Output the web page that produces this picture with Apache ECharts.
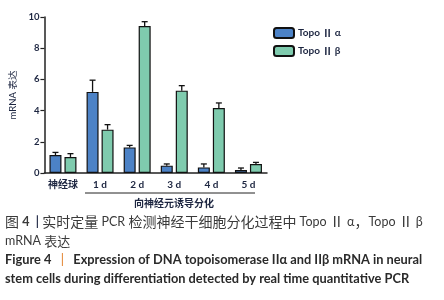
<!DOCTYPE html>
<html>
<head>
<meta charset="utf-8">
<script src="https://cdn.jsdelivr.net/npm/echarts@6/dist/echarts.min.js"></script>
<style>
  html, body { margin: 0; padding: 0; background: #fff; }
  #main { width: 444px; height: 300px; }
</style>
</head>
<body>
<div id="main"></div>
<script>
// categories and values
const categories = ['神经球', '1 d', '2 d', '3 d', '4 d', '5 d'];
const seriesNames = ['Topo Ⅱ α', 'Topo Ⅱ β'];
const alphaValues = [1.15, 5.2, 1.64, 0.47, 0.36, 0.19];
const betaValues = [1.03, 2.78, 9.42, 5.28, 4.17, 0.58];
// upper error (SD) for each bar
const alphaErr = [0.17, 0.75, 0.13, 0.11, 0.22, 0.13];
const betaErr = [0.21, 0.32, 0.28, 0.32, 0.32, 0.1];
const yTicks = [0, 2, 4, 6, 8, 10];

const BLUE = '#4c82c6';
const GREEN = '#7fcbae';
const INK = '#1c2540';
const BAR_W = 12;
const BAR_GAP = 3;
const CJK = '"Noto Sans CJK SC", sans-serif';
const LAT = 'Lato, "Noto Sans CJK SC", sans-serif';

const chart = echarts.init(document.getElementById('main'));

// error bar drawer; side = -1 for left bar, +1 for right bar
function errorBars(values, errs, side) {
    return {
        type: 'custom',
        silent: true,
        z: 5,
        data: values.map((v, i) => [i, v, v + errs[i]]),
        renderItem: function (params, api) {
            const i = api.value(0);
            const base = api.coord([i, api.value(1)]);
            const top = api.coord([i, api.value(2)]);
            const x = base[0] + side * (BAR_GAP / 2 + BAR_W / 2);
            const style = { stroke: '#111', lineWidth: 1.3 };
            return {
                type: 'group',
                children: [
                    { type: 'line', shape: { x1: x, y1: base[1], x2: x, y2: top[1] }, style: style },
                    { type: 'line', shape: { x1: x - 3, y1: top[1], x2: x + 3, y2: top[1] }, style: style }
                ]
            };
        }
    };
}

const capC = { fontSize: 14, fill: '#3a3a3a', fontFamily: CJK };
const capL = { fontSize: 12.5, fill: '#3a3a3a', fontFamily: LAT };

const option = {
    animation: false,
    grid: { left: 33, right: 177, top: 17, bottom: 127 },
    legend: {
        data: seriesNames,
        orient: 'vertical',
        left: 268,
        top: 22,
        itemWidth: 20,
        itemHeight: 10,
        itemGap: 6,
        formatter: name => name.replace('Topo Ⅱ ', 'Topo {c|Ⅱ} '),
        textStyle: {
            fontSize: 10, fontWeight: 'bold', color: INK, fontFamily: LAT, padding: [0, 0, 0, -1],
            rich: { c: { fontSize: 10, fontWeight: 'bold', color: INK, fontFamily: CJK } }
        }
    },
    xAxis: {
        type: 'category',
        data: categories,
        axisLine: { lineStyle: { color: '#222', width: 1.5 } },
        axisTick: { alignWithLabel: true, length: 4, lineStyle: { color: '#222', width: 1.2 } },
        axisLabel: {
            interval: 0,
            fontSize: 10, fontWeight: 'bold', color: INK, margin: 7,
            fontFamily: LAT
        }
    },
    yAxis: {
        type: 'value',
        min: 0,
        max: 10,
        interval: 2,
        name: 'mRNA 表达',
        nameLocation: 'middle',
        nameGap: 18,
        nameTextStyle: { fontSize: 9.5, color: INK, fontFamily: LAT },
        axisLine: { show: true, lineStyle: { color: '#222', width: 1.5 } },
        axisTick: { show: true, length: 4, lineStyle: { color: '#222', width: 1.2 } },
        splitLine: { show: false },
        axisLabel: {
            fontSize: 9.5, fontWeight: 'bold', color: INK, margin: 5,
            fontFamily: 'Lato, sans-serif',
            formatter: v => yTicks.includes(v) ? String(v) : ''
        }
    },
    series: [
        {
            name: seriesNames[0], type: 'bar', data: alphaValues,
            barWidth: BAR_W, barGap: '25%',
            itemStyle: { color: BLUE, borderColor: '#111', borderWidth: 1.2 }
        },
        {
            name: seriesNames[1], type: 'bar', data: betaValues,
            barWidth: BAR_W,
            itemStyle: { color: GREEN, borderColor: '#111', borderWidth: 1.2 }
        },
        errorBars(alphaValues, alphaErr, -1),
        errorBars(betaValues, betaErr, 1)
    ],
    graphic: [
        // bracket under the induction days
        { type: 'line', shape: { x1: 85, y1: 193, x2: 255, y2: 193 }, style: { stroke: '#222', lineWidth: 1 } },
        {
            type: 'text', x: 174, y: 203,
            style: {
                text: '向神经元诱导分化', fontSize: 10, fontWeight: 'bold', fill: INK,
                fontFamily: CJK, align: 'center', verticalAlign: 'middle'
            }
        },
        // caption
        {
            type: 'text', x: 5, y: 222,
            style: {
                text: '{c|图} {b|4}  {o||} {c|实时定量} {l|PCR} {c|检测神经干细胞分化过程中} {l|Topo} {c|Ⅱ} {l|α}{c|，}{l|Topo} {c|Ⅱ} {l|β}',
                fontSize: 12.5, fill: '#3a3a3a', verticalAlign: 'middle', fontFamily: LAT,
                rich: {
                    c: capC,
                    l: capL,
                    b: { fontSize: 12.5, fontWeight: 'bold', fill: '#3a3a3a', fontFamily: LAT },
                    o: { fontSize: 12.5, fontWeight: 'bold', fill: '#2e3550', fontFamily: LAT }
                }
            }
        },
        {
            type: 'text', x: 5, y: 241,
            style: {
                text: '{l|mRNA} {c|表达}', verticalAlign: 'middle',
                rich: { l: capL, c: { fontSize: 13, fill: '#3a3a3a', fontFamily: CJK } }
            }
        },
        {
            type: 'text', x: 5, y: 260,
            style: {
                text: 'Figure 4   {o||}   Expression of DNA topoisomerase IIα and IIβ mRNA in neural',
                fontSize: 12.8, fontWeight: 'bold', fill: '#2a2a2a', verticalAlign: 'middle',
                fontFamily: 'Lato, sans-serif',
                rich: { o: { fontSize: 12.8, fill: '#e07a1f', fontFamily: 'Lato, sans-serif' } }
            }
        },
        {
            type: 'text', x: 5, y: 279,
            style: {
                text: 'stem cells during differentiation detected by real time quantitative PCR',
                fontSize: 12.8, fontWeight: 'bold', fill: '#2a2a2a', verticalAlign: 'middle',
                fontFamily: 'Lato, sans-serif'
            }
        }
    ]
};

chart.setOption(option);
</script>
</body>
</html>
